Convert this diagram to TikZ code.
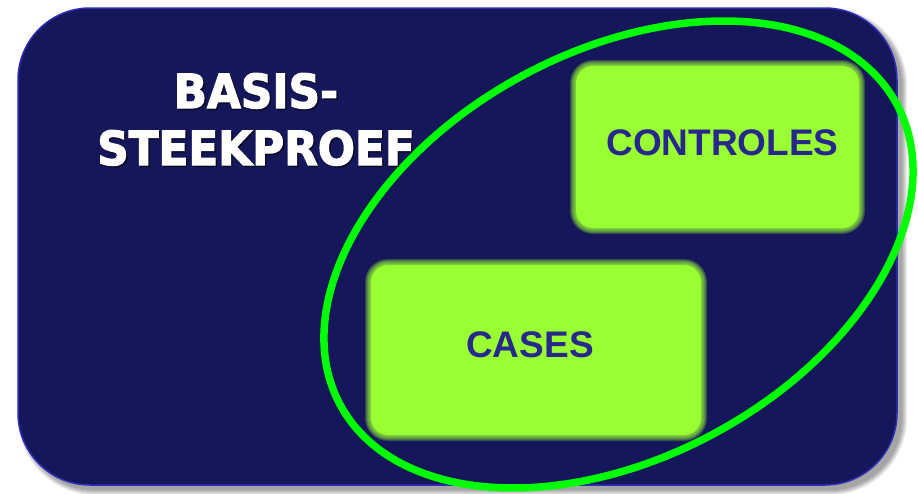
\documentclass[tikz,border=0pt]{standalone}
\usepackage{fontspec}
\setmainfont{Liberation Sans}
\newfontfamily\titlefont[FakeStretch=0.93,FakeBold=2.5]{DejaVu Sans}
\definecolor{navy}{RGB}{22,23,90}
\definecolor{frameblue}{RGB}{45,45,185}
\definecolor{limegreen}{RGB}{153,255,51}
\definecolor{ringgreen}{RGB}{0,255,0}
\definecolor{labelblue}{RGB}{40,40,140}
\tikzset{
  framebox/.style={draw=frameblue, fill=navy, line width=1.5pt, rounded corners=72pt, inner sep=0pt},
  glowbox/.style={fill=limegreen, inner sep=0pt, draw=none},
  boxlabel/.style={text=labelblue, font=\bfseries\fontsize{37}{44}\selectfont, inner sep=0pt, anchor=base},
  titletext/.style={text=white, font=\titlefont\bfseries\fontsize{47}{57}\selectfont, inner sep=0pt, anchor=base},
  titleshadow/.style={text=black, opacity=0.45, font=\titlefont\bfseries\fontsize{47}{57}\selectfont, inner sep=0pt, anchor=base},
  ring/.style={draw=ringgreen, line width=7.5pt}
}
\begin{document}
\begin{tikzpicture}[x=1pt,y=1pt]
\useasboundingbox (0,0) rectangle (918,-493);
% shadow of the frame
\foreach \j in {0,...,5}
  \fill[black, opacity=0.07, rounded corners=72pt+\j pt] (23-\j,-13+\j) rectangle (902+\j,-490-\j);
% frame
\node[framebox, minimum width=879pt, minimum height=477pt] (frame) at (457.5,-246.5) {};
% ring (ellipse)
\coordinate (ringc) at (618.5,-254.5);
\draw[ring, rotate around={28.4:(ringc)}] (ringc) ellipse [x radius=316.3pt, y radius=203pt];
% CONTROLES box (soft edges)
\node[glowbox, rounded corners=17pt, minimum width=283pt, minimum height=162pt] (controles) at (717.5,-147) {};
\foreach \k in {1,...,6}
  \node[glowbox, fill opacity=0.22, rounded corners=17pt+\k pt, minimum width=283pt+2*\k pt, minimum height=162pt+2*\k pt] (controlesglow\k) at (controles) {};
% CASES box (soft edges)
\node[glowbox, rounded corners=17pt, minimum width=330pt, minimum height=170pt] (cases) at (536,-350) {};
\foreach \k in {1,...,6}
  \node[glowbox, fill opacity=0.22, rounded corners=17pt+\k pt, minimum width=330pt+2*\k pt, minimum height=170pt+2*\k pt] (casesglow\k) at (cases) {};
% labels
\node[boxlabel] (controleslabel) at (722.5,-155) {CONTROLES};
\node[boxlabel] (caseslabel) at (530,-357) {CASES};
% title
\node[titleshadow] (title1s) at (257.5,-109.5) {BASIS-};
\node[titleshadow] (title2s) at (257.5,-166.5) {STEEKPROEF};
\node[titletext] (title1) at (256,-108) {BASIS-};
\node[titletext] (title2) at (256,-165) {STEEKPROEF};
\end{tikzpicture}
\end{document}
